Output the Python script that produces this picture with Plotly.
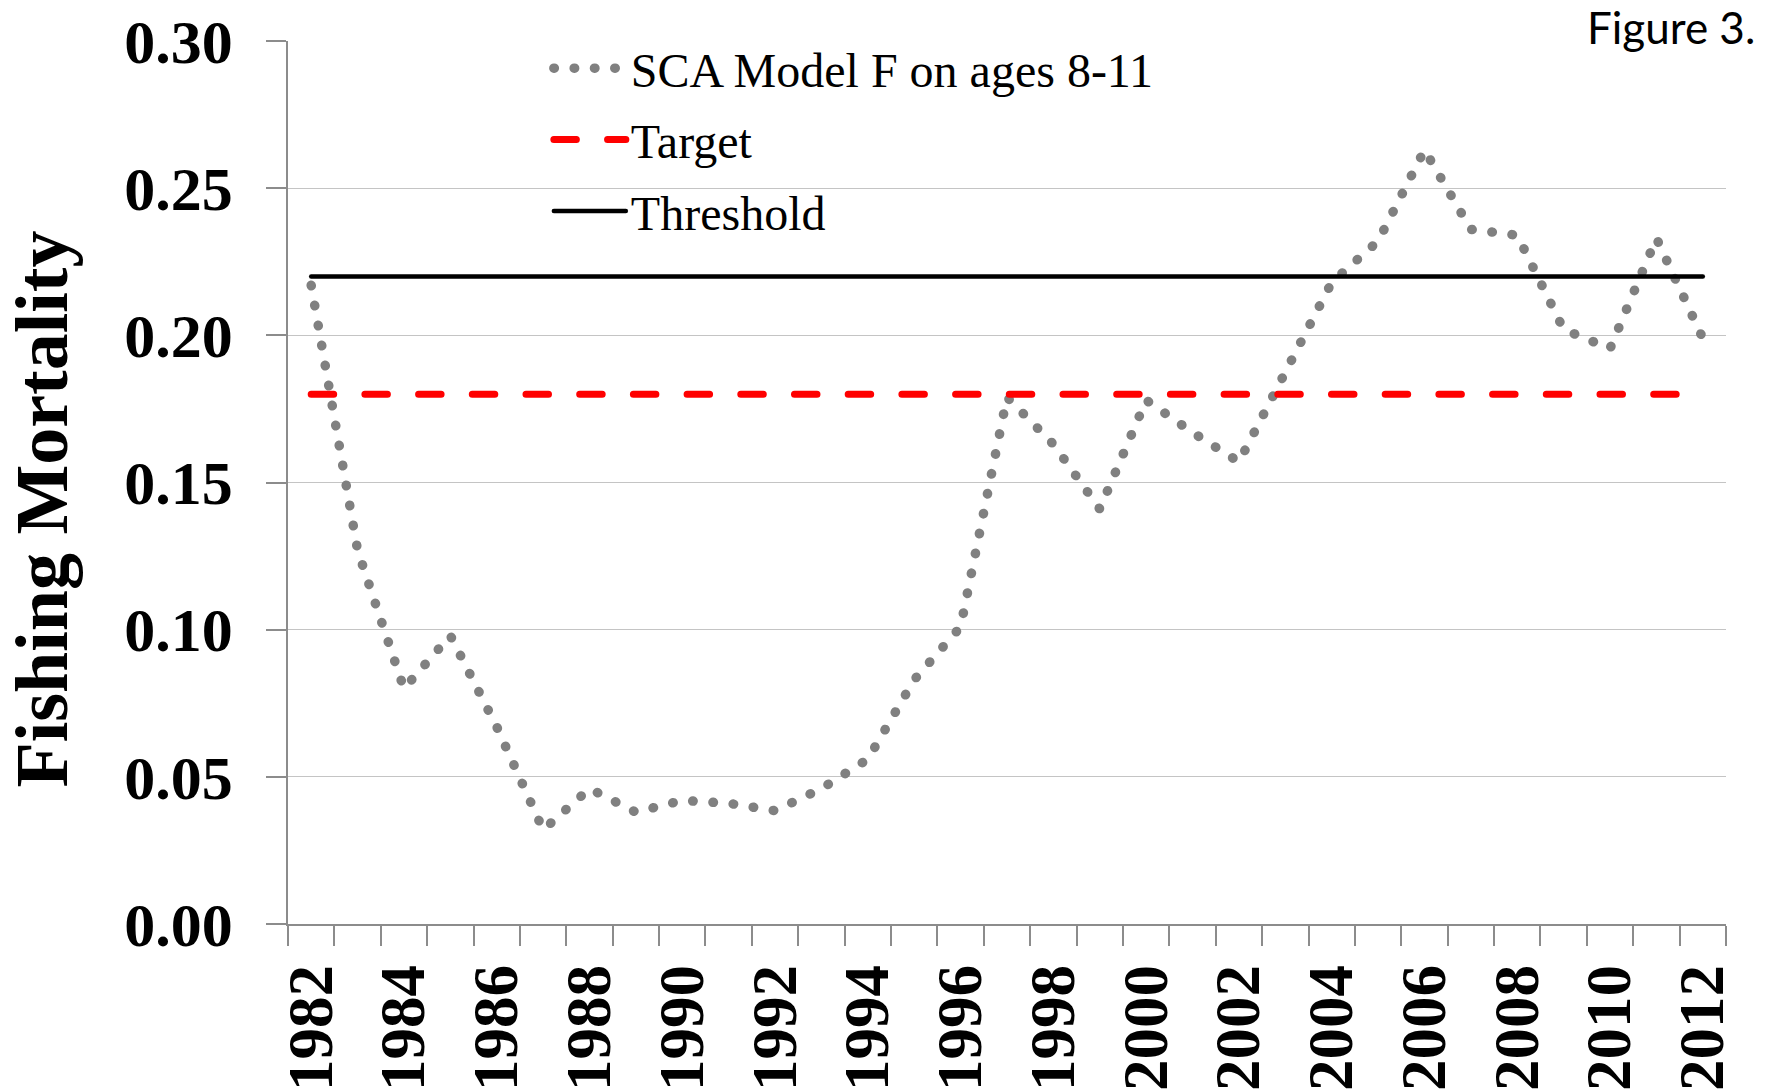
import plotly.graph_objects as go

years = list(range(1982, 2013))
sca_f = [0.217, 0.127, 0.080, 0.098, 0.067, 0.032, 0.046, 0.038, 0.042, 0.041,
         0.0385, 0.046, 0.056, 0.083, 0.101, 0.179, 0.163, 0.141, 0.178, 0.167,
         0.157, 0.188, 0.218, 0.232, 0.263, 0.236, 0.234, 0.202, 0.1955, 0.233,
         0.199]
target = [0.18] * len(years)
threshold = [0.22] * len(years)

xtick_vals = list(range(1982, 2013, 2))
xtick_text = [str(v) for v in xtick_vals]
ytick_vals = [0.0, 0.05, 0.10, 0.15, 0.20, 0.25, 0.30]
ytick_text = ["0.00", "0.05", "0.10", "0.15", "0.20", "0.25", "0.30"]

SERIF = "Liberation Serif, Times New Roman, serif"

fig = go.Figure()
fig.add_trace(go.Scatter(x=years, y=sca_f, mode="lines", name="SCA Model F on ages 8-11",
                         legendgroup="a",
                         line=dict(color="#808080", width=9.5, dash="0.5px,19.8px")))
fig.add_trace(go.Scatter(x=years, y=target, mode="lines", name="Target",
                         legendgroup="b",
                         line=dict(color="#FF0000", width=7, dash="22.5px,31.2px")))
fig.add_trace(go.Scatter(x=years, y=threshold, mode="lines", name="Threshold",
                         legendgroup="c",
                         line=dict(color="#000000", width=4.5)))

fig.update_layout(
    width=1766, height=1091,
    margin=dict(l=288, r=40, t=41, b=167),
    paper_bgcolor="white", plot_bgcolor="white",
    font=dict(family=SERIF, color="black"),
    showlegend=True,
    legend=dict(x=0.1814, y=1.0119, xanchor="left", yanchor="top",
                font=dict(family=SERIF, size=48, color="black"),
                bgcolor="rgba(0,0,0,0)", itemwidth=72, tracegroupgap=6),
    xaxis=dict(range=[1981.5, 2012.5], tickmode="array", tickvals=xtick_vals,
               ticktext=xtick_text, tickangle=-90, ticks="", showgrid=False,
               zeroline=False, showline=True, linecolor="#8c8c8c", linewidth=1.5,
               automargin=False,
               tickfont=dict(family=SERIF, size=63, color="black", weight="bold"),
               ticklabelstandoff=14,
               minor=dict(ticks="outside", tick0=1981.5, dtick=1, ticklen=20,
                          tickcolor="#8c8c8c", tickwidth=1.5, showgrid=False)),
    yaxis=dict(range=[0, 0.3], tickmode="array", tickvals=ytick_vals,
               ticktext=ytick_text, ticks="outside", ticklen=20,
               tickcolor="#8c8c8c", tickwidth=1.5, showline=True,
               linecolor="#8c8c8c", linewidth=1.5, showgrid=True,
               gridcolor="#c4c4c4", gridwidth=1.3, zeroline=False,
               automargin=False,
               tickfont=dict(family=SERIF, size=62, color="black", weight="bold"),
               ticklabelstandoff=21),
    annotations=[
        dict(text="Fishing Mortality", xref="paper", yref="paper", x=-0.171, y=0.4695,
             textangle=-90, showarrow=False, xanchor="center", yanchor="middle",
             font=dict(family=SERIF, size=74, color="black", weight="bold")),
        dict(text="Figure 3.", xref="paper", yref="paper", x=1.0219, y=1.0153,
             xanchor="right", yanchor="middle", showarrow=False,
             font=dict(family="Lato, Open Sans, sans-serif", size=44, color="black")),
    ],
)

post = """
document.body.style.margin = '0';
document.body.style.padding = '0';
var gd = document.getElementById('{plot_id}');
function fixCaps(){
  gd.querySelectorAll('path.js-line').forEach(function(p){ p.style.strokeLinecap = 'round'; });
}
fixCaps();
gd.on('plotly_afterplot', fixCaps);
"""
fig.write_html("out.html", post_script=post, config={"displayModeBar": False})
